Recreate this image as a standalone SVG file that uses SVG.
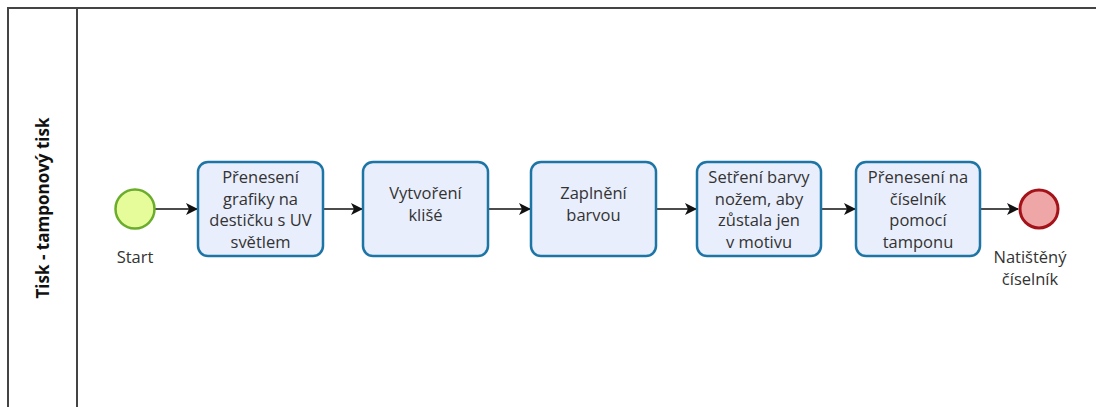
<svg xmlns="http://www.w3.org/2000/svg" width="1096" height="407" viewBox="0 0 1096 407">
<style>
.pool{fill:none;stroke:#444;stroke-width:2}
.task rect{fill:#e9eefc;stroke:#1d75a6;stroke-width:2.5}
.t{font-family:"Open Sans","Noto Sans",sans-serif;font-size:16.5px;fill:#333;text-anchor:middle}
.edge{stroke:#111;stroke-width:1.5;fill:none;marker-end:url(#arr)}
</style>
<defs>
<marker id="arr" viewBox="0 0 12 12" refX="11" refY="6" markerWidth="12" markerHeight="12" markerUnits="userSpaceOnUse" orient="auto">
<path d="M0,0 L12,6 L0,12 L3,6 Z" fill="#111"/>
</marker>
</defs>
<rect width="1096" height="407" fill="#fff"/>
<g id="pool">
<path class="pool" d="M1100,8 H8 V410"/>
<line class="pool" x1="77" y1="8" x2="77" y2="410"/>
<text class="t" style="font-weight:bold;font-size:17px;fill:#111" transform="translate(49,208) rotate(-90)">Tisk - tamponový tisk</text>
</g>
<g id="edges">
<line class="edge" x1="155" y1="209" x2="197" y2="209"/>
<line class="edge" x1="323" y1="209" x2="362" y2="209"/>
<line class="edge" x1="488" y1="209" x2="530" y2="209"/>
<line class="edge" x1="656" y1="209" x2="696" y2="209"/>
<line class="edge" x1="821" y1="209" x2="855" y2="209"/>
<line class="edge" x1="980" y1="209" x2="1018" y2="209"/>
</g>
<g id="start">
<circle cx="135" cy="209" r="19.5" fill="#e6fb9a" stroke="#6aad2b" stroke-width="2.5"/>
<text class="t" x="135" y="263">Start</text>
</g>
<g id="task1" class="task">
<rect x="198" y="162" width="125" height="94" rx="10"/>
<text class="t" x="260.5" y="183">Přenesení</text>
<text class="t" x="260.5" y="204.5">grafiky na</text>
<text class="t" x="260.5" y="226">destičku s UV</text>
<text class="t" x="260.5" y="247.5">světlem</text>
</g>
<g id="task2" class="task">
<rect x="363" y="162" width="125" height="94" rx="10"/>
<text class="t" x="425.5" y="199">Vytvoření</text>
<text class="t" x="425.5" y="220.5">klišé</text>
</g>
<g id="task3" class="task">
<rect x="531" y="162" width="125" height="94" rx="10"/>
<text class="t" x="593.5" y="199">Zaplnění</text>
<text class="t" x="593.5" y="220.5">barvou</text>
</g>
<g id="task4" class="task">
<rect x="697" y="162" width="124" height="94" rx="10"/>
<text class="t" x="759" y="183">Setření barvy</text>
<text class="t" x="759" y="204.5">nožem, aby</text>
<text class="t" x="759" y="226">zůstala jen</text>
<text class="t" x="759" y="247.5">v motivu</text>
</g>
<g id="task5" class="task">
<rect x="856" y="162" width="124" height="94" rx="10"/>
<text class="t" x="918" y="183">Přenesení na</text>
<text class="t" x="918" y="204.5">číselník</text>
<text class="t" x="918" y="226">pomocí</text>
<text class="t" x="918" y="247.5">tamponu</text>
</g>
<g id="end">
<circle cx="1039" cy="209" r="19" fill="#eea6a6" stroke="#a5131a" stroke-width="3"/>
<text class="t" x="1030" y="263">Natištěný</text>
<text class="t" x="1030" y="284.5">číselník</text>
</g>
</svg>
